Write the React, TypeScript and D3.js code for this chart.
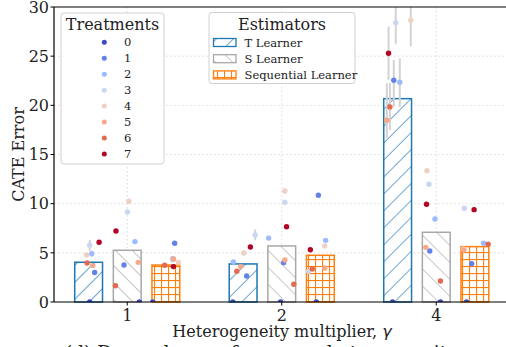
import React from "react";
import * as d3 from "d3";

// ---------- data ----------
const categories = ["1", "2", "4"];
const estimators = ["T Learner", "S Learner", "Sequential Learner"];
const treatments = ["0", "1", "2", "3", "4", "5", "6", "7"];
const yTicks = [0, 5, 10, 15, 20, 25, 30];

// bar heights (mean CATE error) per category
const tLearnerMeans = [4.04, 3.87, 20.68];
const sLearnerMeans = [5.26, 5.7, 7.09];
const seqLearnerMeans = [3.76, 4.75, 5.63];

// per-treatment errors [category][treatment]
const tLearnerPoints = [
  [0, 3.0, 4.9, 5.77, 4.78, 3.7, 3.97, 6.07],
  [0, 2.64, 4.07, 6.82, 4.98, 3.6, 3.12, 5.6],
  [0, 22.55, 22.35, 28.4, 28.65, 18.48, 19.84, 25.3],
];
const sLearnerPoints = [
  [0, 3.76, 6.14, 9.16, 10.24, 4.03, 1.66, 7.22],
  [0, 4.0, 6.5, 10.14, 11.29, 4.27, 1.8, 7.66],
  [0, 5.19, 8.44, 11.97, 13.36, 5.56, 2.14, 9.94],
];
const seqLearnerPoints = [
  [0, 5.97, 4.4, 4.3, 4.03, 4.37, 3.73, 3.6],
  [0, 10.85, 6.27, 3.12, 5.7, 3.46, 3.36, 5.32],
  [0, 3.9, 5.97, 9.53, 5.4, 5.29, 5.87, 9.39],
];

// strip jitter (category-axis units)
const tLearnerJitter = [
  [0.007, 0.039, 0.02, 0.007, -0.014, 0.027, -0.01, 0.068],
  [-0.067, 0.023, -0.063, 0.078, 0.004, -0.016, -0.041, 0.047],
  [-0.033, -0.025, 0.014, -0.012, 0.085, -0.07, -0.05, -0.059],
];
const sLearnerJitter = [
  [0.078, -0.021, 0.05, 0.002, 0.011, 0.071, -0.076, -0.073],
  [-0.008, 0.012, -0.085, 0.02, 0.02, 0.02, 0.078, 0.031],
  [0.027, -0.042, -0.008, -0.047, -0.06, -0.068, 0.027, -0.063],
];
const seqLearnerJitter = [
  [-0.085, 0.057, 0.044, 0.042, 0.081, 0.05, -0.008, 0.049],
  [-0.026, -0.013, 0.034, -0.076, 0.028, 0.028, -0.052, -0.065],
  [-0.054, -0.021, 0.056, -0.069, -0.073, -0.071, 0.086, -0.005],
];

// error bar ranges for T learner points (null = none visible)
const tLearnerErrLow = [
  [null, null, 4.6, 5.2, null, null, null, null],
  [null, null, null, 6.27, null, null, null, null],
  [null, 19.84, 19.84, 26.2, 26.0, 16.65, 17.5, 22.6],
];
const tLearnerErrHigh = [
  [null, null, 5.2, 6.3, null, null, null, null],
  [null, null, null, 7.37, null, null, null, null],
  [null, 24.6, 24.8, 31.0, 31.5, 22.25, 22.3, 28.0],
];

const treatmentColors = ["#3b4cc0", "#6282ea", "#9abbff", "#c9d7f0", "#edd1c2", "#f7a889", "#e26952", "#b40426"];
const estimatorColors = ["#1f77b4", "#a8a8a8", "#ff7f0e"];
const estimatorPatterns = ["hatchT", "hatchS", "hatchSeq"];

const FONT = "DejaVu Serif, Liberation Serif, serif";

export default function App() {
  const W = 506, H = 347;
  const left = 54, top = 7, bottom = 302, right = 509.5;
  const x = d3.scaleLinear().domain([-0.474, 2.474]).range([left, right]);
  const y = d3.scaleLinear().domain([0, 30]).range([bottom, top]);
  const offsets = [-0.25, 0, 0.25];
  const barW = 0.18;

  const means = [tLearnerMeans, sLearnerMeans, seqLearnerMeans];
  const points = [tLearnerPoints, sLearnerPoints, seqLearnerPoints];
  const jitter = [tLearnerJitter, sLearnerJitter, seqLearnerJitter];
  const ts = { fontFamily: FONT };

  return (
    <svg width={W} height={H} style={{ position: "absolute", left: 0, top: 0, fontFamily: FONT }}>
      <defs>
        <pattern id="hatchT" patternUnits="userSpaceOnUse" width={12} height={12} patternTransform="rotate(45)">
          <line x1={0} y1={0} x2={0} y2={12} stroke={estimatorColors[0]} strokeWidth={1.3} />
        </pattern>
        <pattern id="hatchS" patternUnits="userSpaceOnUse" width={12} height={12} patternTransform="rotate(-45)">
          <line x1={0} y1={0} x2={0} y2={12} stroke={estimatorColors[1]} strokeWidth={1.3} />
        </pattern>
        <pattern id="hatchSeq" patternUnits="userSpaceOnUse" width={7} height={7}>
          <line x1={0.5} y1={0} x2={0.5} y2={7} stroke={estimatorColors[2]} strokeWidth={1.2} />
          <line x1={0} y1={0.5} x2={7} y2={0.5} stroke={estimatorColors[2]} strokeWidth={1.2} />
        </pattern>
        <clipPath id="plotClip">
          <rect x={left} y={top} width={right - left} height={bottom - top} />
        </clipPath>
      </defs>
      <rect width={W} height={H} fill="white" />

      {/* grid */}
      {yTicks.slice(1, -1).map((t) => (
        <line key={"gy" + t} x1={left} x2={right} y1={y(t)} y2={y(t)} stroke="#d6d6d6" strokeWidth={0.9} strokeDasharray="1.5,2.5" />
      ))}
      {categories.map((c, i) => (
        <line key={"gx" + c} x1={x(i)} x2={x(i)} y1={top} y2={bottom} stroke="#d6d6d6" strokeWidth={0.9} strokeDasharray="1.5,2.5" />
      ))}

      {/* bars */}
      {means.map((arr, e) =>
        arr.map((v, i) => {
          const x0 = x(i + offsets[e] - barW / 2);
          const x1 = x(i + offsets[e] + barW / 2);
          return (
            <g key={`bar${e}-${i}`}>
              <rect x={x0} y={y(v)} width={x1 - x0} height={y(0) - y(v)} fill="white" />
              <rect x={x0} y={y(v)} width={x1 - x0} height={y(0) - y(v)} fill={`url(#${estimatorPatterns[e]})`} />
              <rect x={x0} y={y(v)} width={x1 - x0} height={y(0) - y(v)} fill="none" stroke={estimatorColors[e]} strokeWidth={1.5} />
            </g>
          );
        })
      )}

      {/* error bars */}
      <g clipPath="url(#plotClip)">
        {tLearnerErrLow.map((row, i) =>
          row.map((lo, t) => {
            const hi = tLearnerErrHigh[i][t];
            if (lo == null || hi == null) return null;
            const cx = x(i + offsets[0] + tLearnerJitter[i][t]);
            return <line key={`err${i}-${t}`} x1={cx} x2={cx} y1={y(lo)} y2={y(hi)} stroke="#d3d3d3" strokeWidth={2} />;
          })
        )}
      </g>

      {/* points */}
      <g clipPath="url(#plotClip)">
        {points.map((grp, e) =>
          grp.map((row, i) =>
            row.map((v, t) => (
              <circle
                key={`p${e}-${i}-${t}`}
                cx={x(i + offsets[e] + jitter[e][i][t])}
                cy={y(v)}
                r={2.7}
                fill={treatmentColors[t]}
              />
            ))
          )
        )}
      </g>

      {/* spines */}
      <line x1={left} x2={left} y1={top} y2={bottom} stroke="black" strokeWidth={1.2} />
      <line x1={left} x2={W} y1={bottom} y2={bottom} stroke="black" strokeWidth={1.2} />
      <line x1={left} x2={W} y1={top} y2={top} stroke="black" strokeWidth={1.2} />

      {/* y ticks */}
      {yTicks.map((t) => (
        <g key={"yt" + t}>
          <line x1={left - 3.5} x2={left} y1={y(t)} y2={y(t)} stroke="black" strokeWidth={1} />
          <text x={left - 5} y={y(t)} dy="0.36em" textAnchor="end" fontSize={16} fill="#222" style={ts}>
            {t}
          </text>
        </g>
      ))}
      {/* x ticks */}
      {categories.map((c, i) => (
        <g key={"xt" + c}>
          <line x1={x(i)} x2={x(i)} y1={bottom} y2={bottom + 3.5} stroke="black" strokeWidth={1} />
          <text x={x(i)} y={bottom + 19} textAnchor="middle" fontSize={16} fill="#222" style={ts}>
            {c}
          </text>
        </g>
      ))}

      <text transform={`translate(24,${(top + bottom) / 2}) rotate(-90)`} textAnchor="middle" fontSize={16} fill="#222" style={ts}>
        CATE Error
      </text>
      <text x={282} y={337} textAnchor="middle" fontSize={16} fill="#222" style={ts}>
        Heterogeneity multiplier, <tspan fontStyle="italic" style={{ fontFamily: "DejaVu Sans, sans-serif" }}>γ</tspan>
      </text>
      <text x={65} y={359} fontSize={18.5} fill="#222" style={ts}>
        (d) Dependence of error on heterogeneity
      </text>

      {/* Treatments legend */}
      <g>
        <rect x={61} y={13} width={103} height={151} rx={3} fill="white" fillOpacity={0.85} stroke="#d0d0d0" strokeWidth={1} />
        <text x={112.5} y={30} textAnchor="middle" fontSize={16} fill="#222" style={ts}>
          Treatments
        </text>
        {treatments.map((t, i) => (
          <g key={"lt" + t}>
            <circle cx={104.3} cy={42.3 + i * 15.95} r={2.5} fill={treatmentColors[i]} />
            <text x={124} y={42.3 + i * 15.95} dy="0.36em" fontSize={11.5} fill="#222" style={ts}>
              {t}
            </text>
          </g>
        ))}
      </g>

      {/* Estimators legend */}
      <g>
        <rect x={209} y={12.5} width={146} height={71} rx={3} fill="white" fillOpacity={0.85} stroke="#d0d0d0" strokeWidth={1} />
        <text x={282} y={30} textAnchor="middle" fontSize={16} fill="#222" style={ts}>
          Estimators
        </text>
        {estimators.map((name, e) => {
          const cy = 42.5 + e * 16.2;
          return (
            <g key={"le" + name}>
              <rect x={213.5} y={cy - 4} width={22.5} height={8} fill="white" />
              <rect x={213.5} y={cy - 4} width={22.5} height={8} fill={`url(#${estimatorPatterns[e]})`} />
              <rect x={213.5} y={cy - 4} width={22.5} height={8} fill="none" stroke={estimatorColors[e]} strokeWidth={1.3} />
              <text x={244.5} y={cy} dy="0.36em" fontSize={11.5} fill="#222" style={ts}>
                {name}
              </text>
            </g>
          );
        })}
      </g>
    </svg>
  );
}
